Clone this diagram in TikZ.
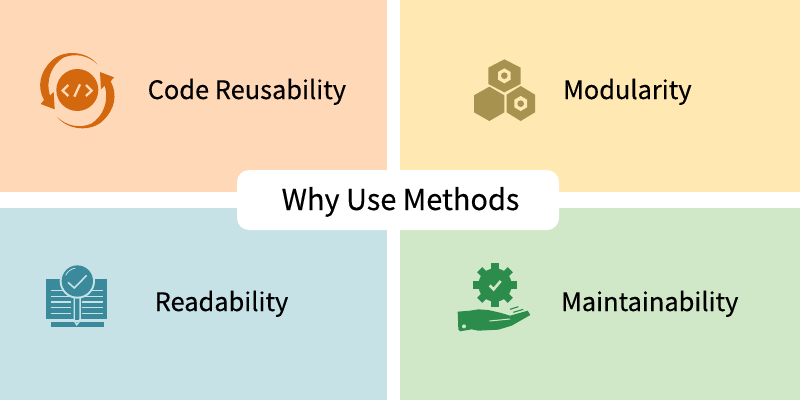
\documentclass[tikz,border=0pt]{standalone}
\usepackage{fontspec}
\setmainfont{Noto Sans CJK JP}[FakeBold=0.3]
\definecolor{pOrange}{HTML}{FFD8B8}
\definecolor{pYellow}{HTML}{FFE8B2}
\definecolor{pBlue}{HTML}{C6E2E7}
\definecolor{pGreen}{HTML}{D1E8C8}
\definecolor{iOrange}{HTML}{D4680F}
\definecolor{iYellow}{HTML}{A89250}
\definecolor{iBlue}{HTML}{3A8A9C}
\definecolor{iGreen}{HTML}{2B8C4B}
\tikzset{
  panel/.style={draw=none,minimum width=#1,inner sep=0pt,outer sep=0pt,anchor=north west,text height=0pt},
  lbl/.style={anchor=base west,inner sep=0pt,font=\fontsize{25.4}{30}\selectfont,text=black},
}
\begin{document}
\begin{tikzpicture}[x=1pt,y=-1pt]
\useasboundingbox (0,0) rectangle (800,400);
\fill[white] (0,0) rectangle (800,400);
\node[panel=387pt,minimum height=192pt,fill=pOrange] (orange) at (0,0) {};
\node[panel=400pt,minimum height=192pt,fill=pYellow] (yellow) at (400,0) {};
\node[panel=387pt,minimum height=192pt,fill=pBlue] (blue) at (0,208) {};
\node[panel=400pt,minimum height=192pt,fill=pGreen] (green) at (400,208) {};
\node[fill=white,rounded corners=12pt,minimum width=322pt,minimum height=60pt,inner sep=0pt] (title) at (398,200) {};
\node[anchor=base,inner sep=0pt,font=\fontsize{28.9}{36}\selectfont,text=black] (titletext) at (400.5,210) {Why Use Methods};
\node[lbl] (reuse) at (147.5,99) {Code Reusability};
\node[lbl] (modular) at (563,99) {Modularity};
\node[lbl] (read) at (154.5,311) {Readability};
\node[lbl] (maintain) at (561,311) {Maintainability};

% code reuse icon
\begin{scope}[shift={(20,30)},x=1pt,y=-1pt,scale=1/3]
  \fill[iOrange] (172,180) circle (63);
  \draw[pOrange,line width=2.3pt,line join=miter] (145,165) -- (128,182) -- (145,198);
  \draw[pOrange,line width=2.3pt] (163,200) -- (180,163);
  \draw[pOrange,line width=2.3pt] (198,165) -- (215,182) -- (198,198);
  \foreach \r in {0,180}{
    \fill[iOrange,rotate around={\r:(172,182)}] (232,103)
      .. controls (200,62) and (130,58) .. (95,92)
      .. controls (60,125) and (50,170) .. (72,210)
      -- (62,222) -- (104,238) -- (101,186) -- (90,197)
      .. controls (76,150) and (95,105) .. (130,83)
      .. controls (165,68) and (205,76) .. (232,103) -- cycle;
  }
\end{scope}

% hexagons icon
\begin{scope}[shift={(450,40)},x=1pt,y=-1pt,scale=1/3]
  \fill[iYellow] (163,58) -- (212,83) -- (212,132) -- (163,157) -- (115,132) -- (115,83) -- cycle;
  \fill[iYellow] (118,140) -- (163,166) -- (163,217) -- (118,243) -- (72,217) -- (72,166) -- cycle;
  \fill[iYellow] (212,138) -- (255,164) -- (255,217) -- (212,243) -- (170,217) -- (170,164) -- cycle;
  \fill[pYellow] (163,85) -- (182,96) -- (182,119) -- (163,130) -- (144,119) -- (144,96) -- cycle;
  \fill[iYellow] (163,107) circle (10);
  \fill[pYellow] (212,168) -- (231,179) -- (231,202) -- (212,213) -- (193,202) -- (193,179) -- cycle;
  \fill[iYellow] (212,191) circle (10);
\end{scope}

% book icon
\begin{scope}[shift={(30,250)},x=1pt,y=-1pt,scale=1/3]
  \fill[iBlue] (48,88) rectangle (230,207);
  \fill[iBlue] (63,215) rectangle (222,232);
  \foreach \yy in {122,139,156,173,190}{
    \draw[pBlue,line width=1.5pt] (62,\yy) -- (122,\yy);
    \draw[pBlue,line width=1.5pt] (156,\yy) -- (218,\yy);
  }
  \draw[pBlue,line width=1.5pt] (133,140) -- (133,212) -- (140,224) -- (150,212) -- (150,140);
  \fill[iBlue] (135,140) rectangle (148,211);
  \fill[pBlue] (142,93) circle (53);
  \fill[iBlue] (142,93) circle (47);
  \draw[pBlue,line width=1.6pt] (114,97) -- (133,114) -- (170,76);
  \draw[pBlue,line width=0.8pt] (107,76) arc[start angle=205,end angle=262,radius=38];
\end{scope}

% gear and hand icon
\begin{scope}[shift={(445,250)},x=1pt,y=-1pt,scale=1/3]
  \fill[iGreen] (150,105) circle (50);
  \foreach \a in {0,45,...,315}{
    \fill[iGreen,rotate around={\a:(150,105)}] (139,62) rectangle (161,40);
  }
  \draw[pGreen,line width=2.6pt] (134,106) -- (146,118) -- (167,93);
  \fill[iGreen] (38,185) -- (75,182) -- (100,178) -- (130,180) -- (165,188) -- (195,197)
    -- (248,182) -- (256,195) -- (200,227) -- (160,239) -- (100,242) -- (80,238) -- (45,244) -- (40,238) -- cycle;
  \draw[pGreen,line width=1pt] (133,213) -- (195,207);
  \fill[pGreen] (57,229) circle (6);
  \draw[iGreen,line width=1.1pt] (195,178) -- (220,170);
  \draw[iGreen,line width=1.1pt] (205,187) -- (235,178);
\end{scope}
\end{tikzpicture}
\end{document}
